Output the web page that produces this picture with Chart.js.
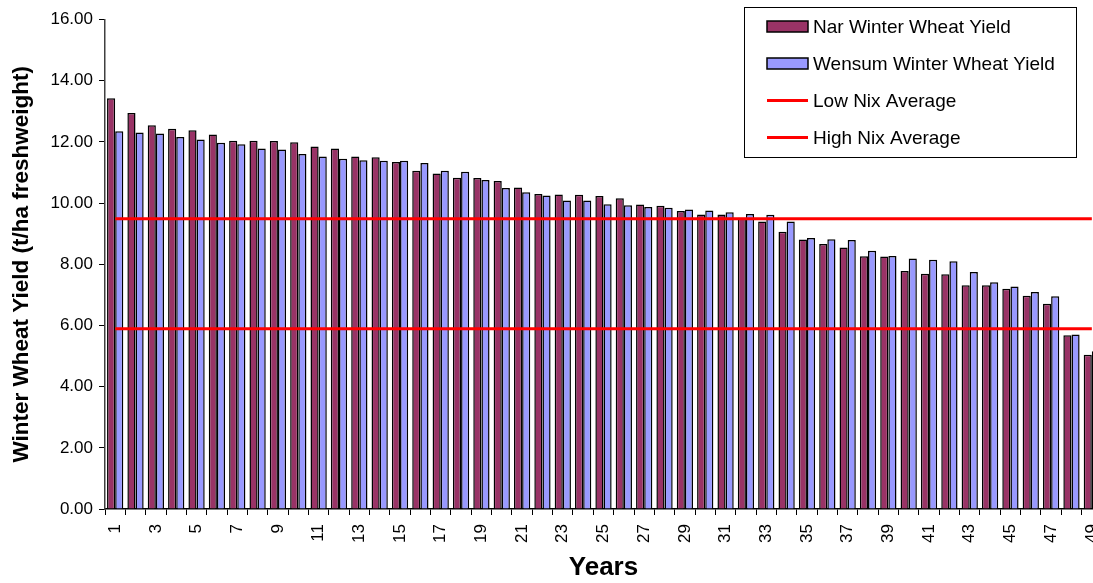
<!DOCTYPE html>
<html>
<head>
<meta charset="utf-8">
<title>Winter Wheat Yield</title>
<script src="https://cdn.jsdelivr.net/npm/chart.js@4.4.1/dist/chart.umd.min.js"></script>
<style>
  html, body { margin: 0; padding: 0; background: #fff; overflow: hidden; }
  #wrap { width: 1102px; height: 583px; }
</style>
</head>
<body>
<div id="wrap"><canvas id="yield-chart"></canvas></div>
<script>
const years = [];
for (let y = 1; y <= 49; y++) years.push(String(y));

const narYield = [
  13.43, 12.94, 12.54, 12.43, 12.38, 12.24, 12.04, 12.04, 12.03, 11.99,
  11.85, 11.78, 11.52, 11.50, 11.34, 11.06, 10.97, 10.83, 10.82, 10.72,
  10.51, 10.30, 10.28, 10.27, 10.23, 10.16, 9.95, 9.91, 9.74, 9.63,
  9.63, 9.52, 9.40, 9.06, 8.81, 8.66, 8.55, 8.26, 8.25, 7.78,
  7.69, 7.67, 7.31, 7.31, 7.20, 6.97, 6.71, 5.68, 5.04
];

const wensumYield = [
  12.35, 12.31, 12.27, 12.16, 12.08, 11.97, 11.92, 11.78, 11.75, 11.60,
  11.52, 11.45, 11.40, 11.38, 11.38, 11.31, 11.06, 11.02, 10.75, 10.49,
  10.35, 10.25, 10.08, 10.08, 9.96, 9.93, 9.87, 9.85, 9.79, 9.76,
  9.70, 9.64, 9.62, 9.40, 8.86, 8.82, 8.79, 8.44, 8.27, 8.19,
  8.15, 8.10, 7.75, 7.41, 7.27, 7.09, 6.95, 5.70, 5.16
];

const lowNixAverage = 5.89;
const highNixAverage = 9.49;

const yTicks = [0, 2, 4, 6, 8, 10, 12, 14, 16];

const NAR_COLOR = "#993366";
const WENSUM_COLOR = "#9999FF";
const NIX_COLOR = "#FF0000";
const FONT = "'Liberation Sans', Arial, sans-serif";

// legend drawn as a framed box over the top right of the plot
const boxLegend = {
  id: "boxLegend",
  afterDraw(chart) {
    const ctx = chart.ctx;
    const left = 744, top = 7, width = 332, height = 150;
    ctx.save();
    ctx.fillStyle = "#fff";
    ctx.fillRect(left, top, width, height);
    ctx.strokeStyle = "#000";
    ctx.lineWidth = 1;
    ctx.strokeRect(left + 0.5, top + 0.5, width, height);

    ctx.font = "19px " + FONT;
    ctx.textBaseline = "middle";
    chart.data.datasets.forEach((ds, i) => {
      const rowY = 26.5 + i * 37;
      if (ds.type === "line") {
        ctx.strokeStyle = ds.borderColor;
        ctx.lineWidth = 3;
        ctx.beginPath();
        ctx.moveTo(767, rowY);
        ctx.lineTo(808, rowY);
        ctx.stroke();
      } else {
        ctx.fillStyle = ds.backgroundColor;
        ctx.fillRect(767, rowY - 5.5, 41, 11);
        ctx.strokeStyle = "#000";
        ctx.lineWidth = 1.5;
        ctx.strokeRect(767, rowY - 5.5, 41, 11);
      }
      ctx.fillStyle = "#000";
      ctx.fillText(ds.label, 813, rowY + 1);
    });
    ctx.restore();
  },
};

new Chart(document.getElementById("yield-chart"), {
  type: "bar",
  data: {
    labels: years,
    datasets: [
      {
        label: "Nar Winter Wheat Yield",
        data: narYield,
        backgroundColor: NAR_COLOR,
        borderColor: "#000",
        borderWidth: 1.5,
        order: 2,
      },
      {
        label: "Wensum Winter Wheat Yield",
        data: wensumYield,
        backgroundColor: WENSUM_COLOR,
        borderColor: "#000",
        borderWidth: 1.5,
        order: 2,
      },
      {
        type: "line",
        label: "Low Nix Average",
        data: years.map(() => lowNixAverage),
        borderColor: NIX_COLOR,
        borderWidth: 3,
        pointRadius: 0,
        fill: false,
        order: 1,
      },
      {
        type: "line",
        label: "High Nix Average",
        data: years.map(() => highNixAverage),
        borderColor: NIX_COLOR,
        borderWidth: 3,
        pointRadius: 0,
        fill: false,
        order: 1,
      },
    ],
  },
  options: {
    responsive: true,
    maintainAspectRatio: false,
    animation: false,
    layout: { padding: { top: 19.5, left: 0, right: 0, bottom: 0 } },
    datasets: {
      bar: { barPercentage: 1.0, categoryPercentage: 0.8 },
    },
    scales: {
      x: {
        offset: true,
        // fixed band under the plot; the last label runs off the right edge
        afterFit: (axis) => {
          axis.height = 74;
          axis.paddingLeft = 0;
          axis.paddingRight = 0;
        },
        grid: {
          offset: true,
          drawOnChartArea: false,
          drawTicks: true,
          tickLength: 6,
          color: "#000",
        },
        border: { color: "#000", width: 1.5 },
        ticks: {
          autoSkip: false,
          minRotation: 90,
          maxRotation: 90,
          padding: 9,
          color: "#000",
          font: { family: FONT, size: 17 },
          callback: (value, index) => (index % 2 === 0 ? years[index] : ""),
        },
        title: {
          display: true,
          text: "Years",
          color: "#000",
          font: { family: FONT, size: 26, weight: "bold" },
          padding: { top: 0, bottom: 0 },
        },
      },
      y: {
        min: yTicks[0],
        max: yTicks[yTicks.length - 1],
        afterBuildTicks: (axis) => {
          axis.ticks = yTicks.map((v) => ({ value: v }));
        },
        afterFit: (axis) => {
          axis.width = 105;
          axis.paddingTop = 0;
          axis.paddingBottom = 0;
        },
        grid: {
          drawOnChartArea: false,
          drawTicks: true,
          tickLength: 6,
          color: "#000",
        },
        border: { color: "#404040", width: 1.5 },
        ticks: {
          padding: 6,
          color: "#000",
          font: { family: FONT, size: 17 },
          callback: (value) => Number(value).toFixed(2),
        },
        title: {
          display: true,
          text: "Winter Wheat Yield (t/ha freshweight)",
          color: "#000",
          font: { family: FONT, size: 22.5, weight: "bold" },
          padding: { top: 8.5, bottom: 0 },
        },
      },
    },
    plugins: {
      legend: { display: false },
      tooltip: { enabled: false },
    },
  },
  plugins: [boxLegend],
});
</script>
</body>
</html>
